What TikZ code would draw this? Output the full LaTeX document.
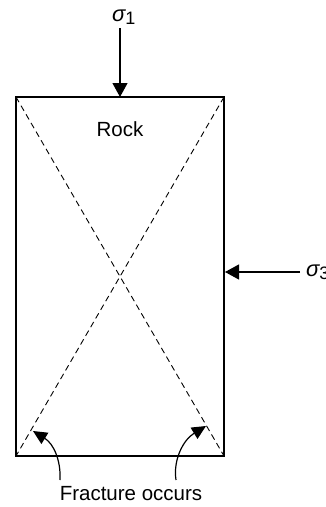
\documentclass[tikz,border=0pt]{standalone}
\usepackage{fontspec}
\setmainfont{Liberation Sans}
\usetikzlibrary{arrows.meta}
\newcommand{\sig}[1]{{\fontsize{22}{24}\selectfont\itshape σ}\raisebox{-0.25ex}{\fontsize{18}{18}\selectfont #1}}
\begin{document}
\begin{tikzpicture}[x=1pt,y=-1pt,
  lbl/.style={font=\fontsize{20.5}{24}\selectfont, inner sep=0pt},
  force/.style={line width=1.2pt, -{Triangle[length=14pt,width=15pt]}},
  curvedarrow/.style={line width=1.2pt, -{Triangle[length=14pt,width=13pt]}},
  diag/.style={line width=0.9pt, dash pattern=on 6pt off 4pt}]
\useasboundingbox (0,0) rectangle (325,507);
\coordinate (tl) at (16,97);
\coordinate (br) at (224,456);
\coordinate (tr) at (224,97);
\coordinate (bl) at (16,456);
\draw[line width=1.4pt] (tl) rectangle (br);
\draw[diag] (tl) -- (br);
\draw[diag] (tr) -- (bl);
\node[lbl] (rock) at (120,129) {Rock};
\node[lbl, anchor=west] (s1) at (112,17) {\sig{1}};
\coordinate (top) at (120,97);
\coordinate (s1s) at (120,28);
\draw[force] (s1s) -- (top);
\node[lbl, anchor=west] (s3) at (306,272) {\sig{3}};
\coordinate (right) at (225,272);
\coordinate (s3s) at (300,272);
\draw[force] (s3s) -- (right);
\node[lbl] (frac) at (131,494) {Fracture occurs};
\coordinate (fl) at (33,431);
\coordinate (fr) at (206,426);
\coordinate (l0) at (60,480);
\coordinate (r0) at (176,480);
\draw[curvedarrow] (l0) .. controls (61,461) and (54,444) .. (fl);
\draw[curvedarrow] (r0) .. controls (173,460) and (183,440) .. (fr);
\end{tikzpicture}
\end{document}
